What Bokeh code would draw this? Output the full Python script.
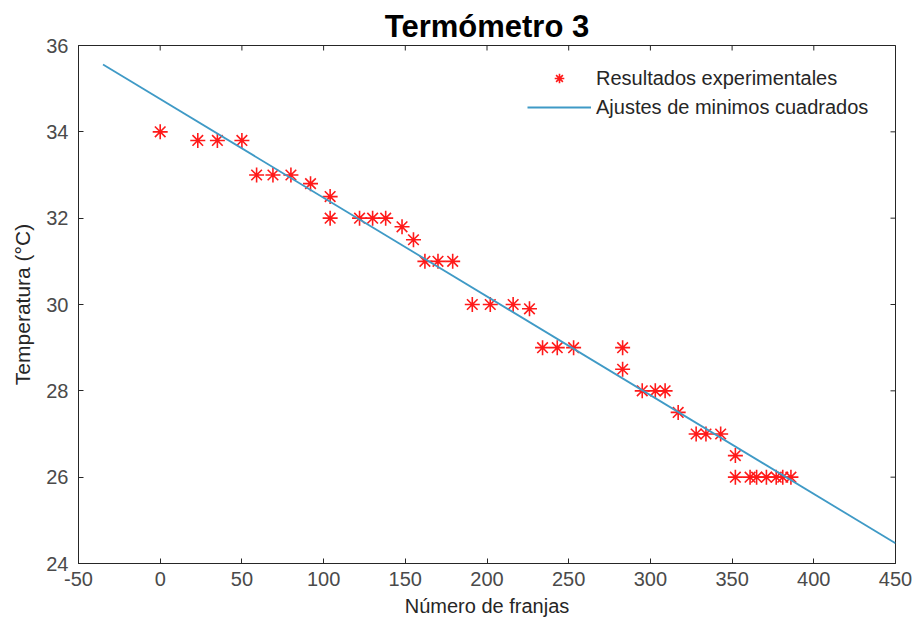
from bokeh.plotting import figure
from bokeh.models import Range1d, Legend, LegendItem, FixedTicker
from bokeh.embed import file_html
from bokeh.resources import INLINE
import math

# Data
franjas = [0, 23, 35, 50, 59, 69, 80, 92, 104, 104, 122, 130, 138, 148, 155,
           162, 170, 179, 191, 202, 216, 226, 234, 243, 253, 283, 283,
           295, 303, 309, 317, 328, 334, 343, 352, 352, 361, 365, 371,
           377, 381, 386]
temperatura = [34.0, 33.8, 33.8, 33.8, 33.0, 33.0, 33.0, 32.8, 32.5, 32.0, 32.0, 32.0, 32.0, 31.8, 31.5,
               31.0, 31.0, 31.0, 30.0, 30.0, 30.0, 29.9, 29.0, 29.0, 29.0, 29.0, 28.5,
               28.0, 28.0, 28.0, 27.5, 27.0, 27.0, 27.0, 26.5, 26.0, 26.0, 26.0, 26.0,
               26.0, 26.0, 26.0]

# Least-squares fit line parameters and its extent
fit_slope = -0.02287
fit_intercept = 34.76
fit_x = [-35, 450]
fit_y = [fit_intercept + fit_slope * x for x in fit_x]

x_ticks = [-50, 0, 50, 100, 150, 200, 250, 300, 350, 400, 450]
x_tick_labels = ["-50", "0", "50", "100", "150", "200", "250", "300", "350", "400", "450"]
y_ticks = [24, 26, 28, 30, 32, 34, 36]
x_min, x_max = -50, 450
y_min, y_max = 24, 36

FONT = "Liberation Sans"
AX = "#262626"

p = figure(width=917, height=629, output_backend="svg", toolbar_location=None,
           x_range=Range1d(x_min, x_max), y_range=Range1d(y_min, y_max),
           min_border_left=78, min_border_right=22, min_border_top=45, min_border_bottom=66,
           title="Termómetro 3")
p.title.align = "center"
p.title.text_font = FONT
p.title.text_font_size = "31px"
p.title.text_font_style = "bold"
p.title.text_color = "#000000"
p.title.standoff = 4
p.grid.visible = False
p.outline_line_color = AX
p.outline_line_width = 1
p.background_fill_color = "white"
p.border_fill_color = "white"

for ax in [p.xaxis[0], p.yaxis[0]]:
    ax.major_tick_in = 5
    ax.major_tick_out = 0
    ax.minor_tick_in = 0
    ax.minor_tick_out = 0
    ax.axis_line_color = AX
    ax.major_tick_line_color = AX
    ax.major_label_text_font = FONT
    ax.major_label_text_font_size = "20px"
    ax.major_label_text_color = "#4a4a4a"
    ax.axis_label_text_font = FONT
    ax.axis_label_text_font_style = "normal"
    ax.axis_label_text_color = AX

p.xaxis[0].ticker = FixedTicker(ticks=x_ticks)
p.xaxis[0].major_label_overrides = {t: s for t, s in zip(x_ticks, x_tick_labels)}
p.yaxis[0].ticker = FixedTicker(ticks=y_ticks)
p.xaxis[0].axis_label = "Número de franjas"
p.yaxis[0].axis_label = "Temperatura (°C)"
p.xaxis[0].axis_label_text_font_size = "20px"
p.yaxis[0].axis_label_text_font_size = "21px"
p.xaxis[0].major_label_standoff = 8
p.yaxis[0].major_label_standoff = 10
p.xaxis[0].axis_label_standoff = 6
p.yaxis[0].axis_label_standoff = 9

# box ticks on top and right edges (inside ticks, clipped to the frame)
p.scatter(x_ticks, [y_max] * len(x_ticks), marker="dash", size=10, angle=math.pi / 2,
          line_color=AX, line_width=1)
p.scatter([x_max] * len(y_ticks), y_ticks, marker="dash", size=10,
          line_color=AX, line_width=1)

r_pts = p.scatter(franjas, temperatura, marker="asterisk", size=15,
                  line_color="#ff1a1a", line_width=1.6)
r_fit = p.line(fit_x, fit_y, line_color="#3f9ac6", line_width=1.8)

legend = Legend(items=[LegendItem(label="Resultados experimentales", renderers=[r_pts]),
                       LegendItem(label="Ajustes de minimos cuadrados", renderers=[r_fit])],
                location=(449, 444), border_line_color=None, background_fill_alpha=0,
                glyph_width=64, glyph_height=24, label_height=24, label_standoff=5,
                spacing=5, padding=5, margin=0,
                label_text_font=FONT, label_text_font_size="20px", label_text_color=AX)
p.add_layout(legend, "center")

open("out.html", "w").write(file_html(p, INLINE))
